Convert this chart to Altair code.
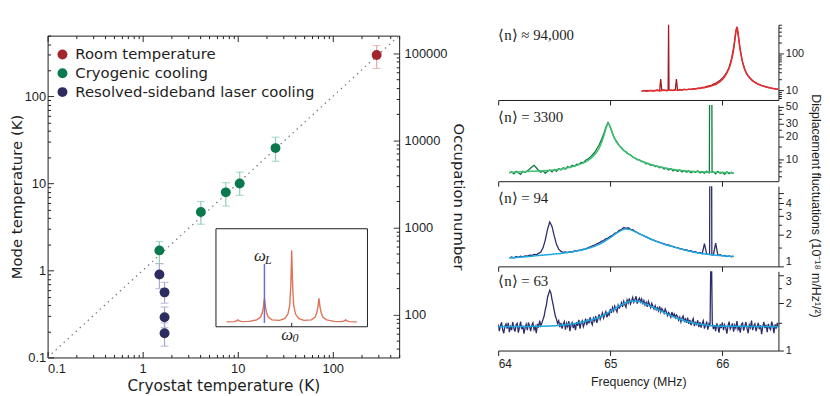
import altair as alt
import pandas as pd

SANS = "Liberation Sans"
WIDE = "DejaVu Sans"
SERIF = "Liberation Serif"
INK = "#1e1e1e"

# ---------------- left panel data ----------------
groups = ["Room temperature", "Cryogenic cooling", "Resolved-sideband laser cooling"]
group_colors = ["#a3262f", "#0a7a4e", "#2c2c60"]
bar_colors = ["#e3a7ab", "#8fcdb5", "#a9a9cf"]

pt_group = ["Room temperature"] + ["Cryogenic cooling"] * 5 + ["Resolved-sideband laser cooling"] * 4
cryostat_T = [290, 25, 10.5, 7.5, 4.1, 1.5, 1.5, 1.7, 1.7, 1.7]
mode_T = [300, 25.5, 10, 7.9, 4.7, 1.7, 0.9, 0.56, 0.29, 0.19]
mode_lo = [210, 18, 7.3, 5.5, 3.4, 1.2, 0.62, 0.42, 0.22, 0.135]
mode_hi = [385, 34, 13.5, 10.2, 6.2, 2.15, 1.2, 0.73, 0.38, 0.25]

diag_T = [0.1, 500]

T_TICKS = [0.1, 0.2, 0.3, 0.4, 0.5, 0.6, 0.7, 0.8, 0.9,
           1, 2, 3, 4, 5, 6, 7, 8, 9,
           10, 20, 30, 40, 50, 60, 70, 80, 90,
           100, 200, 300, 400, 500]
OCC_TICKS = [40, 50, 60, 70, 80, 90,
             100, 200, 300, 400, 500, 600, 700, 800, 900,
             1000, 2000, 3000, 4000, 5000, 6000, 7000, 8000, 9000,
             10000, 20000, 30000, 40000, 50000, 60000, 70000, 80000, 90000,
             100000]
OCC_DOMAIN = [32, 160000]
T_DOMAIN = [0.1, 500]

# inset (schematic spectrum, inset coordinates 0..1)
inset_u = [0.07, 0.12, 0.135, 0.144, 0.153, 0.17, 0.22, 0.27,
           0.295, 0.305, 0.313, 0.32, 0.327, 0.335, 0.345,
           0.37, 0.42, 0.455, 0.475, 0.487, 0.494, 0.5, 0.506, 0.513, 0.525, 0.545,
           0.58, 0.63, 0.655, 0.665, 0.673, 0.68, 0.687, 0.695, 0.705,
           0.73, 0.78, 0.83, 0.847, 0.856, 0.865, 0.88, 0.93]
inset_v = [0.05, 0.052, 0.06, 0.07, 0.06, 0.052, 0.055, 0.07,
           0.1, 0.14, 0.2, 0.29, 0.2, 0.14, 0.1,
           0.07, 0.065, 0.085, 0.13, 0.22, 0.42, 0.78, 0.42, 0.22, 0.13, 0.085,
           0.065, 0.07, 0.1, 0.14, 0.2, 0.29, 0.2, 0.14, 0.1,
           0.07, 0.055, 0.052, 0.06, 0.07, 0.06, 0.052, 0.05]
laser_u = [0.32]
laser_v0 = [0.04]
laser_v1 = [0.64]

# ---------------- right panels data ----------------
p1_start, p1_step = 65.28, 0.02
p1_vals = [9.2, 9.8, 9.3, 9.6, 9.9, 9.4, 9.7, 10.1, 9.5, 9.8,
           10.2, 9.6, 650, 10.0, 9.7, 10.3, 9.9, 10.4, 10.0, 10.6,
           10.2, 10.7, 10.4, 11.0, 10.8, 11.4, 11.1, 11.9, 11.8, 12.6,
           13.0, 13.4, 14.6, 15.3, 17.0, 18.5, 21, 25, 31, 42,
           68, 140, 390, 330, 120, 58, 37, 27, 22.5, 19.5,
           17.2, 15.8, 14.6, 13.9, 13.0, 12.6, 12.0, 11.8, 11.2, 11.0,
           10.7, 10.5]
p1_extra_f = [65.45, 65.516, 65.524, 65.59, 66.13]
p1_extra_v = [20, 9.8, 10.0, 20, 520]
fit1_f = [65.28, 65.5, 65.7, 65.8, 65.9, 65.95, 66.0, 66.04, 66.07, 66.09, 66.10, 66.11,
          66.12, 66.13, 66.14, 66.15, 66.16, 66.18, 66.2, 66.24, 66.3, 66.4, 66.5]
fit1_v = [9.6, 9.9, 10.5, 11.2, 13.0, 14.8, 19.5, 29, 48, 85, 125, 210,
          380, 520, 360, 200, 120, 58, 36, 22, 15.5, 12, 10.6]

p2_start, p2_step = 64.10, 0.02
p2_vals = [6.5, 6.8, 6.4, 6.9, 6.6, 6.3, 6.9, 6.7, 7.0, 7.4,
           7.9, 8.3, 7.7, 7.1, 6.7, 7.0, 6.5, 6.9, 7.2, 6.8,
           7.3, 6.9, 7.5, 7.2, 7.7, 7.4, 8.0, 7.7, 8.3, 8.0,
           8.6, 8.5, 9.1, 9.0, 9.7, 10.1, 10.6, 11.4, 12.3, 13.8,
           15.5, 18.0, 21.5, 26.5, 31.0, 27.0, 22.0, 18.8, 16.9, 15.2,
           14.3, 13.1, 12.6, 11.7, 11.5, 10.7, 10.4, 9.9, 9.8, 9.3,
           9.2, 8.7, 8.8, 8.3, 8.4, 8.0, 8.1, 7.7, 7.9, 7.4,
           7.6, 7.2, 7.5, 7.0, 7.3, 6.9, 7.2, 6.8, 7.1, 6.7,
           7.0, 6.6, 6.9, 6.7, 7.0, 6.6, 6.8, 6.5, 6.9, 6.6,
           80, 6.8, 6.4, 6.9, 6.5, 6.7, 6.3, 6.8, 6.4, 6.7,
           6.5]
p2_extra_f = [65.884, 65.886, 65.906, 65.908]
p2_extra_v = [6.6, 80, 80, 6.8]
fit2_f = [64.1, 64.3, 64.5, 64.6, 64.7, 64.8, 64.86, 64.9, 64.94, 64.97, 64.98,
          65.0, 65.03, 65.06, 65.1, 65.2, 65.3, 65.4, 65.5, 65.6, 65.8, 66.1]
fit2_v = [6.7, 6.9, 7.2, 7.6, 8.3, 9.6, 11.5, 14, 20, 28, 30,
          27, 20, 16.5, 14, 10.8, 9.2, 8.2, 7.6, 7.2, 6.8, 6.6]

p3_start, p3_step = 64.10, 0.02
p3_vals = [1.20, 1.23, 1.20, 1.24, 1.22, 1.25, 1.23, 1.26, 1.25, 1.28,
           1.27, 1.30, 1.29, 1.33, 1.37, 1.50, 1.78, 2.25, 2.65, 2.40,
           1.95, 1.62, 1.46, 1.39, 1.36, 1.37, 1.35, 1.38, 1.37, 1.40,
           1.40, 1.43, 1.42, 1.46, 1.47, 1.50, 1.53, 1.57, 1.59, 1.64,
           1.67, 1.73, 1.76, 1.83, 1.86, 1.93, 1.97, 2.06, 2.10, 2.20,
           2.24, 2.34, 2.30, 2.33, 2.25, 2.24, 2.15, 2.10, 2.04, 2.00,
           1.95, 1.91, 1.86, 1.82, 1.79, 1.75, 1.72, 1.69, 1.66, 1.64,
           1.61, 1.60, 1.56, 1.55, 1.51, 1.51, 1.47, 1.47, 1.43, 1.44,
           1.40, 1.41, 1.37, 1.38, 1.34, 1.36, 1.32, 1.65, 1.31, 1.30,
           9.0, 1.29, 1.66, 1.27, 1.29, 1.26, 1.27, 1.24, 1.26, 1.23,
           1.25]
p3_extra_f = [65.886, 65.888, 65.904, 65.906]
p3_extra_v = [1.30, 9.0, 9.0, 1.29]
fit3_f = [64.1, 64.3, 64.5, 64.6, 64.7, 64.8, 64.9, 65.0, 65.05, 65.1, 65.13,
          65.17, 65.22, 65.3, 65.4, 65.5, 65.6, 65.7, 65.8, 65.9, 66.0, 66.1]
fit3_v = [1.20, 1.25, 1.31, 1.35, 1.40, 1.48, 1.62, 1.88, 2.05, 2.20, 2.27,
          2.25, 2.14, 1.95, 1.75, 1.60, 1.50, 1.40, 1.33, 1.29, 1.26, 1.24]

p4_start, p4_step = 64.00, 0.01
p4_vals = [1.47, 1.33, 1.44, 1.51, 1.36, 1.29, 1.43, 1.48, 1.38, 1.50,
           1.31, 1.42, 1.35, 1.52, 1.39, 1.32, 1.46, 1.49, 1.30, 1.41,
           1.53, 1.37, 1.44, 1.28, 1.40, 1.47, 1.35, 1.51, 1.43, 1.33,
           1.45, 1.50, 1.36, 1.42, 1.29, 1.48, 1.40, 1.55, 1.44, 1.50,
           1.58, 1.66, 1.82, 1.95, 2.18, 2.30, 2.42, 2.33, 2.12, 1.96,
           1.80, 1.66, 1.58, 1.49, 1.55, 1.41, 1.50, 1.38, 1.47, 1.53,
           1.36, 1.49, 1.42, 1.54, 1.33, 1.46, 1.51, 1.39, 1.48, 1.35,
           1.52, 1.44, 1.57, 1.38, 1.50, 1.55, 1.42, 1.49, 1.60, 1.45,
           1.58, 1.49, 1.63, 1.52, 1.46, 1.61, 1.55, 1.66, 1.50, 1.59,
           1.70, 1.58, 1.66, 1.74, 1.61, 1.69, 1.77, 1.63, 1.72, 1.68,
           1.84, 1.74, 1.88, 1.79, 1.92, 1.83, 1.76, 1.95, 1.87, 1.91,
           2.02, 1.90, 2.06, 1.96, 1.89, 2.10, 2.01, 2.15, 1.98, 2.07,
           2.18, 2.03, 2.12, 2.22, 1.99, 2.10, 2.16, 2.04, 2.13, 1.97,
           2.08, 1.95, 2.03, 1.90, 2.06, 1.97, 1.88, 2.00, 1.91, 1.84,
           1.93, 1.82, 1.88, 1.79, 1.91, 1.76, 1.85, 1.80, 1.73, 1.84,
           1.77, 1.67, 1.75, 1.70, 1.63, 1.76, 1.66, 1.71, 1.62, 1.69,
           1.65, 1.56, 1.63, 1.52, 1.61, 1.66, 1.54, 1.59, 1.50, 1.62,
           1.48, 1.57, 1.45, 1.54, 1.60, 1.43, 1.51, 1.47, 1.56, 1.41,
           1.52, 1.40, 1.49, 1.55, 1.38, 1.46, 1.51, 1.36, 1.48, 1.43,
           4.0, 1.50, 1.37, 1.45, 1.33, 1.49, 1.42, 1.30, 1.47, 1.39,
           1.51, 1.35, 1.46, 1.40, 1.28, 1.44, 1.53, 1.37, 1.42, 1.49,
           1.32, 1.45, 1.39, 1.54, 1.36, 1.41, 1.30, 1.47, 1.50, 1.34,
           1.43, 1.52, 1.38, 1.29, 1.46, 1.40, 1.55, 1.35, 1.44, 1.48,
           1.33, 1.41, 1.50, 1.37, 1.45, 1.27, 1.42, 1.52, 1.39, 1.46,
           1.31, 1.48, 1.40, 1.36, 1.53, 1.44, 1.29, 1.47, 1.38, 1.50,
           1.42]
p4_extra_f = [65.897, 65.903]
p4_extra_v = [4.0, 4.0]
fit4_f = [64.0, 64.4, 64.6, 64.8, 64.9, 65.0, 65.1, 65.2, 65.25, 65.3, 65.4,
          65.5, 65.6, 65.7, 65.8, 65.9, 66.0, 66.5]
fit4_v = [1.42, 1.43, 1.46, 1.55, 1.63, 1.78, 1.96, 2.07, 2.06, 2.0, 1.86,
          1.72, 1.6, 1.52, 1.47, 1.44, 1.43, 1.42]

# ---------------- helpers ----------------
DECADE = "abs(log(datum.value)/LN10 - round(log(datum.value)/LN10)) < 0.001"
DEC_LABEL = DECADE + " ? format(datum.value, '~g') : ''"
MINOR_DASH = {"condition": {"test": "!(" + DECADE + ")", "value": [0, 3, 3, 0]}, "value": [1, 0]}


def inward_axis(orient, values, labels=True, title=None, **kw):
    return alt.Axis(orient=orient, values=values, labels=labels, title=title,
                    labelExpr=DEC_LABEL, offset=-6, tickSize=6, tickDash=MINOR_DASH,
                    domain=False, tickColor=INK, titleFont=WIDE, **kw)


xs_T = alt.Scale(type="log", domain=T_DOMAIN, nice=False)
ys_T = alt.Scale(type="log", domain=T_DOMAIN, nice=False)
color_scale = alt.Scale(domain=groups, range=group_colors)
bar_scale = alt.Scale(domain=groups, range=bar_colors)

pts = pd.DataFrame({"group": pt_group, "bar_group": pt_group, "cryo": cryostat_T,
                    "mode": mode_T, "lo": mode_lo, "hi": mode_hi})
diag = pd.DataFrame({"t": diag_T})

y_left_axis = inward_axis("left", T_TICKS, title="Mode temperature (K)",
                          labelFontSize=13, labelPadding=2, titleFontSize=15, titlePadding=0)
x_bottom_axis = inward_axis("bottom", T_TICKS, title="Cryostat temperature (K)",
                            labelFontSize=13, labelPadding=5, titleFontSize=15.5, titlePadding=3)
x_top_axis = inward_axis("top", T_TICKS, labels=False)

diag_layer = alt.Chart(diag).mark_line(color="#777777", strokeWidth=1.2, strokeDash=[1.5, 4]).encode(
    x=alt.X("t:Q", scale=xs_T, axis=x_bottom_axis),
    y=alt.Y("t:Q", scale=ys_T, axis=y_left_axis),
)
top_layer = alt.Chart(diag).mark_point(opacity=0).encode(
    x=alt.X("t:Q", scale=xs_T, axis=x_top_axis),
    y=alt.Y("t:Q", scale=ys_T, axis=y_left_axis),
)
err_layer = alt.Chart(pts).mark_rule(strokeWidth=1.2).encode(
    x=alt.X("cryo:Q", scale=xs_T, axis=None),
    y=alt.Y("lo:Q", scale=ys_T, axis=y_left_axis),
    y2="hi:Q",
    stroke=alt.Stroke("bar_group:N", scale=bar_scale, legend=None),
)
cap_lo = alt.Chart(pts).mark_tick(orient="horizontal", size=8, thickness=1.2).encode(
    x=alt.X("cryo:Q", scale=xs_T, axis=None),
    y=alt.Y("lo:Q", scale=ys_T, axis=y_left_axis),
    fill=alt.Fill("bar_group:N", scale=bar_scale, legend=None),
)
cap_hi = alt.Chart(pts).mark_tick(orient="horizontal", size=8, thickness=1.2).encode(
    x=alt.X("cryo:Q", scale=xs_T, axis=None),
    y=alt.Y("hi:Q", scale=ys_T, axis=y_left_axis),
    fill=alt.Fill("bar_group:N", scale=bar_scale, legend=None),
)
pt_layer = alt.Chart(pts).mark_circle(size=100, opacity=1).encode(
    x=alt.X("cryo:Q", scale=xs_T, axis=None),
    y=alt.Y("mode:Q", scale=ys_T, axis=y_left_axis),
    color=alt.Color("group:N", scale=color_scale, legend=None),
)
main = alt.layer(diag_layer, top_layer, err_layer, cap_lo, cap_hi, pt_layer).resolve_axis(x="independent")

occ = pd.DataFrame({"n": OCC_TICKS})
occ_layer = alt.Chart(occ).mark_point(opacity=0).encode(
    y=alt.Y("n:Q", scale=alt.Scale(type="log", domain=OCC_DOMAIN, nice=False),
            axis=inward_axis("right", OCC_TICKS, title="Occupation number",
                             labelFontSize=13, labelPadding=5, titleFontSize=15, titlePadding=3)),
)
with_occ = alt.layer(main, occ_layer).resolve_scale(y="independent")

# legend (drawn as its own small layer in the top-left corner)
leg_df = pd.DataFrame({"group": groups})
leg_rows = alt.Scale(type="point", domain=groups, range=[19, 57], padding=0)
leg_sym = alt.Chart(leg_df).mark_circle(size=100, opacity=1).encode(
    x=alt.value(15),
    y=alt.Y("group:N", scale=leg_rows, axis=None, sort=groups),
    color=alt.Color("group:N", scale=color_scale, legend=None),
)
leg_txt = alt.Chart(leg_df).mark_text(align="left", baseline="middle", font=WIDE,
                                      fontSize=15, color=INK).encode(
    x=alt.value(28),
    y=alt.Y("group:N", scale=leg_rows, axis=None, sort=groups),
    text="group:N",
)
legend_layer = alt.layer(leg_sym, leg_txt)

# inset
ixs = alt.Scale(domain=[0, 1], range=[170, 323], nice=False, zero=False)
iys = alt.Scale(domain=[0, 1], range=[294, 195], nice=False, zero=False)
box = alt.Chart(pd.DataFrame({"u0": [0], "u1": [1], "v0": [0], "v1": [1]})).mark_rect(
    fill="white", stroke=INK, strokeWidth=1).encode(
    x=alt.X("u0:Q", scale=ixs, axis=None), x2="u1:Q",
    y=alt.Y("v0:Q", scale=iys, axis=None), y2="v1:Q")
curve = alt.Chart(pd.DataFrame({"u": inset_u, "v": inset_v})).mark_line(
    color="#e07458", strokeWidth=1.4).encode(
    x=alt.X("u:Q", scale=ixs, axis=None), y=alt.Y("v:Q", scale=iys, axis=None))
laser = alt.Chart(pd.DataFrame({"u": laser_u, "v0": laser_v0, "v1": laser_v1})).mark_rule(
    color="#6f6fc8", strokeWidth=1.5).encode(
    x=alt.X("u:Q", scale=ixs, axis=None), y=alt.Y("v0:Q", scale=iys, axis=None), y2="v1:Q")
w0tick = alt.Chart(pd.DataFrame({"u": [0.5], "v0": [0.0], "v1": [0.04]})).mark_rule(
    color=INK, strokeWidth=1).encode(
    x=alt.X("u:Q", scale=ixs, axis=None), y=alt.Y("v0:Q", scale=iys, axis=None), y2="v1:Q")
big_sym = alt.Chart(pd.DataFrame({"u": [0.29, 0.47], "v": [0.72, -0.08], "t": ["ω", "ω"]})).mark_text(
    font=SERIF, fontSize=17, fontStyle="italic", color=INK).encode(
    x=alt.X("u:Q", scale=ixs, axis=None), y=alt.Y("v:Q", scale=iys, axis=None), text="t:N")
sub_sym = alt.Chart(pd.DataFrame({"u": [0.345, 0.525], "v": [0.68, -0.12], "t": ["L", "0"]})).mark_text(
    font=SERIF, fontSize=12, fontStyle="italic", color=INK).encode(
    x=alt.X("u:Q", scale=ixs, axis=None), y=alt.Y("v:Q", scale=iys, axis=None), text="t:N")
inset = alt.layer(box, curve, laser, w0tick, big_sym, sub_sym)

left_chart = alt.layer(with_occ, inset, legend_layer).resolve_scale(
    x="independent", y="independent").properties(
    width=355, height=325, view=alt.ViewBackground(stroke=INK, strokeWidth=1))

spacer = alt.Chart(pd.DataFrame({"s": [0]})).mark_point(opacity=0, size=1).encode(
    x=alt.X("s:Q", axis=None), y=alt.Y("s:Q", axis=None)).properties(width=355, height=7)

left_block = alt.vconcat(spacer, left_chart, spacing=0).resolve_scale(
    color="independent", fill="independent", stroke="independent")


# ---------------- right panels ----------------
def spectrum_df(start, step, vals, extra_f, extra_v):
    f = [round(start + i * step, 4) for i in range(len(vals))] + list(extra_f)
    return pd.DataFrame({"f": f, "v": list(vals) + list(extra_v)}).sort_values("f")


def panel(df, fit_df, color, fit_color, ydom, yvals, ylab, label, label_y, height,
          bottom=False, low_label=None, high_label=None):
    xs = alt.Scale(domain=[64, 66.5], nice=False, zero=False)
    ys = alt.Scale(type="log", domain=ydom, nice=False)
    lab_test = "indexof(" + str(ylab) + ", datum.value) >= 0"
    extra = {}
    if low_label is not None:
        extra["labelBaseline"] = {"condition": {"test": "datum.value == " + str(low_label),
                                                "value": "bottom"}, "value": "middle"}
    if high_label is not None:
        extra["labelBaseline"] = {"condition": {"test": "datum.value == " + str(high_label),
                                                "value": "top"}, "value": "middle"}
    xaxis = alt.Axis(values=[64, 65, 66], tickSize=5, labels=bottom, labelFontSize=12,
                     labelPadding=3, title="Frequency (MHz)" if bottom else None,
                     titleFontSize=12.5, titlePadding=6, domainColor=INK, tickColor=INK)
    yaxis = alt.Axis(orient="right", values=yvals, title=None,
                     labelExpr=lab_test + " ? format(datum.value, '~g') : ''",
                     tickSize={"condition": {"test": lab_test, "value": 5}, "value": 3},
                     labelFontSize=11, labelPadding=2, domainColor=INK, tickColor=INK, **extra)
    data_line = alt.Chart(df).mark_line(color=color, strokeWidth=1.3, clip=True).encode(
        x=alt.X("f:Q", scale=xs, axis=xaxis), y=alt.Y("v:Q", scale=ys, axis=yaxis))
    fit_line = alt.Chart(fit_df).mark_line(color=fit_color, strokeWidth=1.5,
                                           interpolate="monotone", clip=True).encode(
        x=alt.X("f:Q", scale=xs, axis=xaxis), y=alt.Y("v:Q", scale=ys, axis=yaxis))
    txt = alt.Chart(pd.DataFrame({"f": [64.0], "v": [label_y], "t": [label]})).mark_text(
        align="left", baseline="middle", font=SERIF, fontSize=15, color=INK).encode(
        x=alt.X("f:Q", scale=xs, axis=xaxis), y=alt.Y("v:Q", scale=ys, axis=yaxis), text="t:N")
    return alt.layer(data_line, fit_line, txt).properties(width=283, height=height)


p1 = panel(spectrum_df(p1_start, p1_step, p1_vals, p1_extra_f, p1_extra_v),
           pd.DataFrame({"f": fit1_f, "v": fit1_v}), "#a01b22", "#e52d2f",
           [5.4, 600], [6, 7, 8, 9, 10, 20, 30, 40, 50, 60, 70, 80, 90, 100, 200, 300, 400, 500, 600],
           [10, 100], "⟨n⟩ ≈ 94,000", 322, 76)
p2 = panel(spectrum_df(p2_start, p2_step, p2_vals, p2_extra_f, p2_extra_v),
           pd.DataFrame({"f": fit2_f, "v": fit2_v}), "#0b7a3c", "#3fbf73",
           [5.1, 53], [6, 7, 8, 9, 10, 15, 20, 25, 30, 35, 40, 45, 50],
           [10, 20, 30, 40, 50], "⟨n⟩ = 3300", 37, 77)
p3 = panel(spectrum_df(p3_start, p3_step, p3_vals, p3_extra_f, p3_extra_v),
           pd.DataFrame({"f": fit3_f, "v": fit3_v}), "#2b2c68", "#1aa7e2",
           [1, 5.8], [1, 1.5, 2, 2.5, 3, 3.5, 4, 4.5, 5],
           [1, 2, 3, 4, 5], "⟨n⟩ = 94", 4.5, 81, low_label=1)
p4 = panel(spectrum_df(p4_start, p4_step, p4_vals, p4_extra_f, p4_extra_v),
           pd.DataFrame({"f": fit4_f, "v": fit4_v}), "#2b2c68", "#1aa7e2",
           [1, 3.2], [1, 1.5, 2, 2.5, 3],
           [1, 2, 3], "⟨n⟩ = 63", 2.77, 80, bottom=True, high_label=3)

right_block = alt.vconcat(p1, p2, p3, p4, spacing=5, bounds="flush").properties(
    title=alt.TitleParams("Displacement fluctuations (10⁻¹⁸ m/Hz¹/²)", orient="right",
                          anchor="middle", fontSize=12.5, font=SANS, fontWeight="normal",
                          color=INK, offset=6))

chart = alt.hconcat(left_block, right_block, spacing=32).resolve_scale(
    color="independent", fill="independent", stroke="independent").properties(
    padding={"left": 0, "top": 14, "right": 0, "bottom": 0}
).configure_view(stroke=None).configure_axis(
    grid=False, labelFont=SANS, titleFont=SANS, titleFontWeight="normal",
    labelColor=INK, titleColor=INK
)

chart.save("out.html", embed_options={"renderer": "svg", "actions": False})
